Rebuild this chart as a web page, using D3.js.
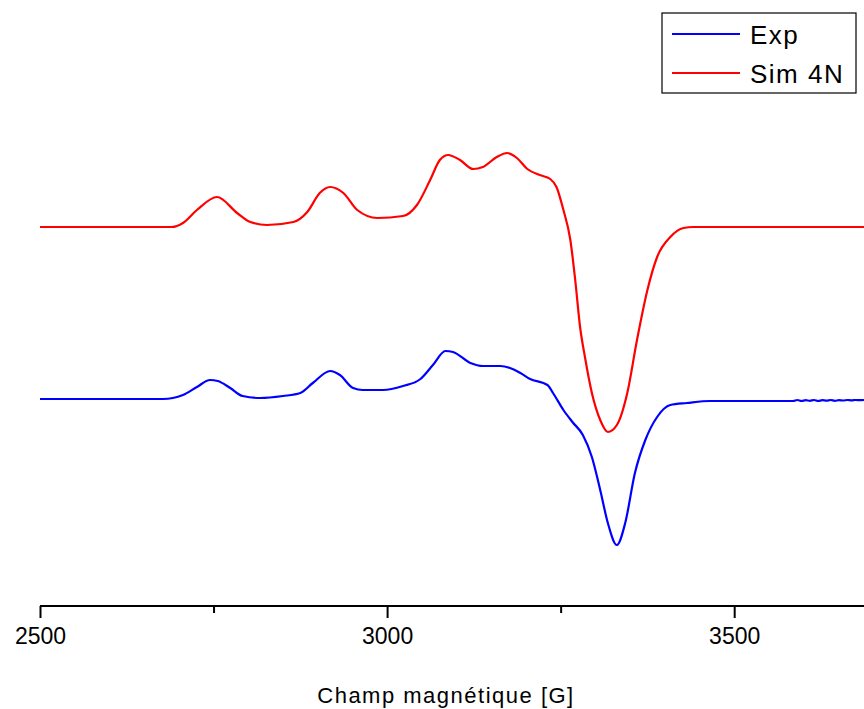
<!DOCTYPE html>
<html>
<head>
<meta charset="utf-8">
<script src="https://cdn.jsdelivr.net/npm/d3@7"></script>
<style>
  html, body { margin: 0; padding: 0; background: #fff; }
  svg { display: block; }
  text { font-family: "Liberation Sans", Arial, sans-serif; fill: #000; }
</style>
</head>
<body>
<svg id="chart" width="864" height="709"></svg>
<script>
// ---------- data ----------
const simField = [2500, 2690, 2706, 2726, 2755, 2784, 2803, 2827, 2865, 2885, 2903, 2918, 2937, 2957, 2986,
  3023, 3043, 3062, 3076, 3088, 3105, 3124, 3138, 3158, 3173, 3187, 3202, 3220, 3235, 3244, 3254, 3264,
  3271, 3278, 3285, 3295, 3307, 3318, 3331, 3346, 3360, 3375, 3389, 3408, 3427, 3441, 3480, 3687];
const simSignal = [0, 0, 0.04, 0.17, 0.30, 0.14, 0.05, 0.02, 0.05, 0.15, 0.34, 0.40, 0.34, 0.17, 0.09,
  0.11, 0.22, 0.47, 0.67, 0.72, 0.67, 0.58, 0.60, 0.70, 0.74, 0.69, 0.58, 0.52, 0.48, 0.40, 0.17, -0.13,
  -0.53, -1.00, -1.30, -1.66, -1.93, -2.05, -1.98, -1.66, -1.13, -0.63, -0.30, -0.10, -0.01, 0, 0, 0];

const expField = [2500, 2677, 2706, 2726, 2745, 2756, 2774, 2792, 2817, 2850, 2875, 2893, 2918, 2932, 2951,
  2965, 2994, 3023, 3048, 3066, 3084, 3095, 3120, 3138, 3163, 3177, 3192, 3206, 3231, 3239, 3254, 3267,
  3282, 3295, 3307, 3318, 3331, 3343, 3357, 3372, 3389, 3408, 3432, 3465, 3520, 3585,
  3591, 3597, 3603, 3609, 3615, 3621, 3627, 3633, 3639, 3645, 3651, 3657, 3663, 3669, 3675, 3681, 3687];
const expSignal = [0, 0, 0.04, 0.12, 0.19, 0.18, 0.11, 0.03, 0.01, 0.03, 0.06, 0.16, 0.28, 0.24, 0.11,
  0.09, 0.09, 0.13, 0.20, 0.34, 0.48, 0.47, 0.36, 0.33, 0.33, 0.31, 0.26, 0.20, 0.14, 0.06, -0.11, -0.23,
  -0.36, -0.58, -0.91, -1.24, -1.46, -1.24, -0.74, -0.41, -0.18, -0.06, -0.04, -0.02, -0.02, -0.02,
  -0.01, -0.02, -0.012, -0.018, -0.01, -0.02, -0.012, -0.016, -0.01, -0.018, -0.012, -0.015, -0.01, -0.014, -0.01, -0.012, -0.01];

const majorTicks = [2500, 3000, 3500];
const minorTicks = [2750, 3250];
const seriesNames = ["Exp", "Sim 4N"];
const seriesColors = ["#0000ff", "#ff0000"];
const xTitle = "Champ magnétique [G]";

// ---------- layout ----------
const svg = d3.select("#chart");
const axisY = 606;
const x = d3.scaleLinear().domain([2500, 3687]).range([40, 864]);
const y = d3.scaleLinear().domain([0, 6.06]).range([axisY, 0]);
const expOffset = 2.07;
const simOffset = 3.79;

const line = d3.line().curve(d3.curveMonotoneX);

function drawSeries(fields, values, offset, color) {
  const pts = fields.map((f, i) => [x(f), y(values[i] + offset)]);
  svg.append("path")
    .attr("d", line(pts))
    .attr("fill", "none")
    .attr("stroke", color)
    .attr("stroke-width", 2.2)
    .attr("stroke-linejoin", "round");
}
drawSeries(simField, simSignal, simOffset, seriesColors[1]);
drawSeries(expField, expSignal, expOffset, seriesColors[0]);

// ---------- x axis ----------
const gAxis = svg.append("g").attr("transform", `translate(0,${axisY})`);
gAxis.call(d3.axisBottom(x).tickValues(majorTicks).tickSize(12).tickPadding(10).tickFormat(d3.format("d")));
gAxis.select(".domain").attr("stroke", "#000").attr("stroke-width", 2.2)
  .attr("d", `M${x(2500)},0H864`);
gAxis.selectAll(".tick line").attr("stroke", "#000").attr("stroke-width", 2);
gAxis.selectAll(".tick text").style("font-size", "23px").style("font-family", "Liberation Sans, Arial, sans-serif");

const gMinor = svg.append("g").attr("transform", `translate(0,${axisY})`);
gMinor.call(d3.axisBottom(x).tickValues(minorTicks).tickSize(7).tickFormat(""));
gMinor.select(".domain").remove();
gMinor.selectAll(".tick line").attr("stroke", "#000").attr("stroke-width", 2);

svg.append("text")
  .attr("x", 446).attr("y", 703)
  .attr("text-anchor", "middle")
  .style("font-size", "22px")
  .style("letter-spacing", "1.5px")
  .text(xTitle);

// ---------- legend ----------
const lg = svg.append("g");
lg.append("rect").attr("x", 662).attr("y", 13).attr("width", 194).attr("height", 80)
  .attr("fill", "#fff").attr("stroke", "#000").attr("stroke-width", 1.2);
const legendRows = [34, 73];
seriesNames.forEach((n, i) => {
  lg.append("line").attr("x1", 672).attr("x2", 740)
    .attr("y1", legendRows[i]).attr("y2", legendRows[i])
    .attr("stroke", seriesColors[i]).attr("stroke-width", 2.2);
  lg.append("text").attr("x", 750).attr("y", legendRows[i] + 10)
    .style("font-size", "26px").style("letter-spacing", "1.5px")
    .text(n);
});
</script>
</body>
</html>
